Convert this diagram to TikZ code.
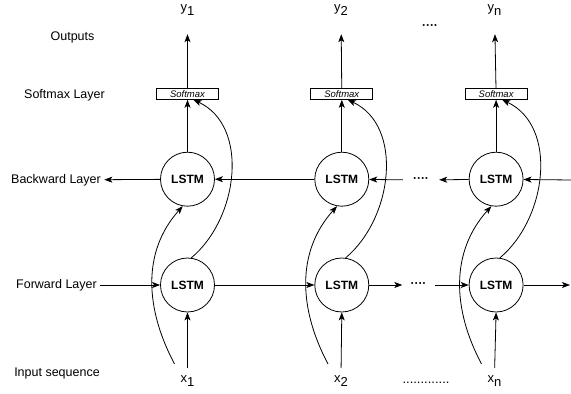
\documentclass[tikz,border=0pt]{standalone}
\usepackage{fontspec}
\setmainfont{Liberation Sans}
\usetikzlibrary{positioning, arrows.meta}
\tikzset{
  lstmcell/.style = {circle, draw, line width=0.8pt, minimum size=54pt,
                     inner sep=0pt, font=\fontsize{12}{14}\selectfont\bfseries},
  smbox/.style = {rectangle, draw, line width=0.8pt, minimum width=62pt,
                  minimum height=11pt, inner sep=0pt,
                  font=\fontsize{9.5}{10}\selectfont\itshape},
  lyrlabel/.style = {font=\fontsize{12.5}{14}\selectfont},
  seqlabel/.style = {font=\fontsize{13}{15}\selectfont, inner sep=2pt},
  dotsnode/.style = {font=\fontsize{12}{12}\selectfont\bfseries, inner xsep=8pt, inner ysep=0pt},
  seqarrow/.style = {-{Stealth[length=8pt,width=6pt,inset=2pt]}, line width=0.8pt}
}

\begin{document}
\begin{tikzpicture}[x=1pt, y=1pt]
\useasboundingbox (0,0) rectangle (571,394);

% layer names on the left
\node[lyrlabel] (lout) at (72.5,357)  {Outputs};
\node[lyrlabel] (lsm)  at (64.5,298.5) {Softmax Layer};
\node[lyrlabel] (lbw)  at (56,214)    {Backward Layer};
\node[lyrlabel] (lfw)  at (56.5,109)  {Forward Layer};
\node[lyrlabel] (lin)  at (57,21)     {Input sequence};

% column 1
\node[lstmcell] (fw1) at (187.5,109) {LSTM};
\node[lstmcell, above=51pt of fw1] (bw1) {LSTM};
\node[smbox, above=52pt of bw1] (sm1) {Softmax};
\node[seqlabel, anchor=base] (out1) at (187.5,382) {y\raisebox{-4pt}{1}};
\node[seqlabel, anchor=base] (in1)  at (187.5,11)  {x\raisebox{-4pt}{1}};

% column 2
\node[lstmcell, right=99.5pt of fw1] (fw2) {LSTM};
\node[lstmcell, above=51pt of fw2] (bw2) {LSTM};
\node[smbox, above=52pt of bw2] (sm2) {Softmax};
\node[seqlabel, anchor=base] (out2) at (341,382) {y\raisebox{-4pt}{2}};
\node[seqlabel, anchor=base] (in2)  at (341,11)  {x\raisebox{-4pt}{2}};

% column n
\node[lstmcell, right=99.5pt of fw2] (fw3) {LSTM};
\node[lstmcell, above=51pt of fw3] (bw3) {LSTM};
\node[smbox, above=52pt of bw3] (sm3) {Softmax};
\node[seqlabel, anchor=base] (out3) at (494.5,382) {y\raisebox{-4pt}{n}};
\node[seqlabel, anchor=base] (in3)  at (494.5,11)  {x\raisebox{-4pt}{n}};

% gaps in the sequence
\node[dotsnode] (fdots) at (418.5,109) {····};
\node[dotsnode, inner xsep=10pt] (bdots) at (421,214) {····};
\node[dotsnode] (tdots) at (430,367) {····};
\node[seqlabel, anchor=base] (idots) at (426,10) {.............};
\coordinate (fwout) at (570,109);
\coordinate (bwin)  at (571,214);

% inputs and outputs
\draw[seqarrow, shorten <=6pt] (in1.north) -- (fw1.south);
\draw[seqarrow, shorten <=6pt] (in2.north) -- (fw2.south);
\draw[seqarrow, shorten <=6pt] (in3.north) -- (fw3.south);
\draw[seqarrow] (bw1) -- (sm1);
\draw[seqarrow] (bw2) -- (sm2);
\draw[seqarrow] (bw3) -- (sm3);
\draw[seqarrow, shorten >=16pt] (sm1) -- (out1);
\draw[seqarrow, shorten >=16pt] (sm2) -- (out2);
\draw[seqarrow, shorten >=16pt] (sm3) -- (out3);

% input to backward cell, forward cell to softmax
\draw[seqarrow] ([xshift=-13pt,yshift=10pt]in1.north) to[out=118,in=228] (bw1.260);
\draw[seqarrow] ([xshift=-13pt,yshift=10pt]in2.north) to[out=118,in=228] (bw2.260);
\draw[seqarrow] ([xshift=-13pt,yshift=10pt]in3.north) to[out=118,in=228] (bw3.260);
\draw[seqarrow] (fw1.82) to[out=40,in=-25] ([xshift=6pt]sm1.south);
\draw[seqarrow] (fw2.82) to[out=40,in=-25] ([xshift=6pt]sm2.south);
\draw[seqarrow] (fw3.82) to[out=40,in=-25] ([xshift=6pt]sm3.south);

% forward layer
\draw[seqarrow] (lfw) -- (fw1);
\draw[seqarrow] (fw1) -- (fw2);
\draw[seqarrow] (fw2) -- (fdots);
\draw[seqarrow] (fdots) -- (fw3);
\draw[seqarrow] (fw3) -- (fwout);

% backward layer
\draw[seqarrow] (bwin) -- (bw3);
\draw[seqarrow] (bw3) -- (bdots);
\draw[seqarrow] (bdots) -- (bw2);
\draw[seqarrow] (bw2) -- (bw1);
\draw[seqarrow] (bw1) -- (lbw);
\end{tikzpicture}
\end{document}
